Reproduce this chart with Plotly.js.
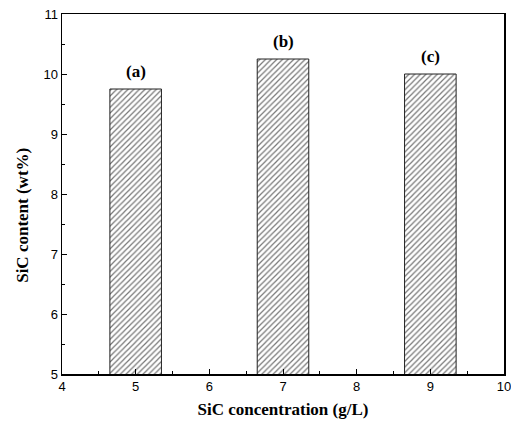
<!DOCTYPE html>
<html><head><meta charset="utf-8">
<script src="https://cdn.plot.ly/plotly-3.0.1.min.js"></script>
<style>html,body{margin:0;padding:0;background:#fff}#chart{width:511px;height:425px}</style>
</head><body><div id="chart"></div>
<script>
const concentrations = [5, 7, 9];
const sicContent = [9.75, 10.25, 10.0];
const barLabels = ['(a)', '(b)', '(c)'];

const serif = '"Liberation Serif", "Times New Roman", serif';
const sans = '"Liberation Sans", Arial, sans-serif';

const trace = {
  type: 'bar',
  x: concentrations,
  y: sicContent,
  base: 0,
  width: 0.7,
  marker: {
    color: '#ffffff',
    line: {color: '#222', width: 1},
    pattern: {shape: '/', fgcolor: '#777', bgcolor: '#fff', size: 4, solidity: 0.3}
  },
  hoverinfo: 'none'
};

const annotations = concentrations.map((c, i) => ({
  x: c, y: sicContent[i], xref: 'x', yref: 'y', text: '<b>' + barLabels[i] + '</b>',
  showarrow: false, yanchor: 'bottom', yshift: 6,
  font: {family: serif, size: 17, color: '#000'}
}));
annotations.push({
  xref: 'paper', yref: 'paper', x: -0.09, y: 0.44, xanchor: 'center', yanchor: 'middle',
  text: '<b>SiC content (wt%)</b>', textangle: -90, showarrow: false,
  font: {family: serif, size: 17, color: '#000'}
});

const layout = {
  width: 511, height: 425,
  margin: {l: 62, r: 7, t: 14, b: 51},
  paper_bgcolor: '#fff', plot_bgcolor: '#fff',
  showlegend: false,
  xaxis: {
    range: [4, 10], tickvals: [4,5,6,7,8,9,10], ticks: 'inside', ticklen: 5, tickwidth: 1, tickcolor: '#000',
    minor: {tickvals: [4.5,5.5,6.5,7.5,8.5,9.5], ticks: 'inside', ticklen: 3, tickcolor: '#000'},
    showline: true, linecolor: '#000', linewidth: 1.5, mirror: true, showgrid: false, zeroline: false,
    ticklabeloverflow: 'allow',
    tickfont: {family: sans, size: 13, color: '#000'},
    title: {text: '<b>SiC concentration (g/L)</b>', font: {family: serif, size: 17, color: '#000'}, standoff: 10}
  },
  yaxis: {
    range: [5, 11], tickvals: [5,6,7,8,9,10,11], ticks: 'inside', ticklen: 5, tickwidth: 1, tickcolor: '#000',
    minor: {tickvals: [5.5,6.5,7.5,8.5,9.5,10.5], ticks: 'inside', ticklen: 3, tickcolor: '#000'},
    showline: true, linecolor: '#000', linewidth: 1.5, mirror: true, showgrid: false, zeroline: false,
    tickfont: {family: sans, size: 13, color: '#000'}
  },
  annotations: annotations
};

Plotly.newPlot('chart', [trace], layout, {staticPlot: true, displayModeBar: false});
</script></body></html>
